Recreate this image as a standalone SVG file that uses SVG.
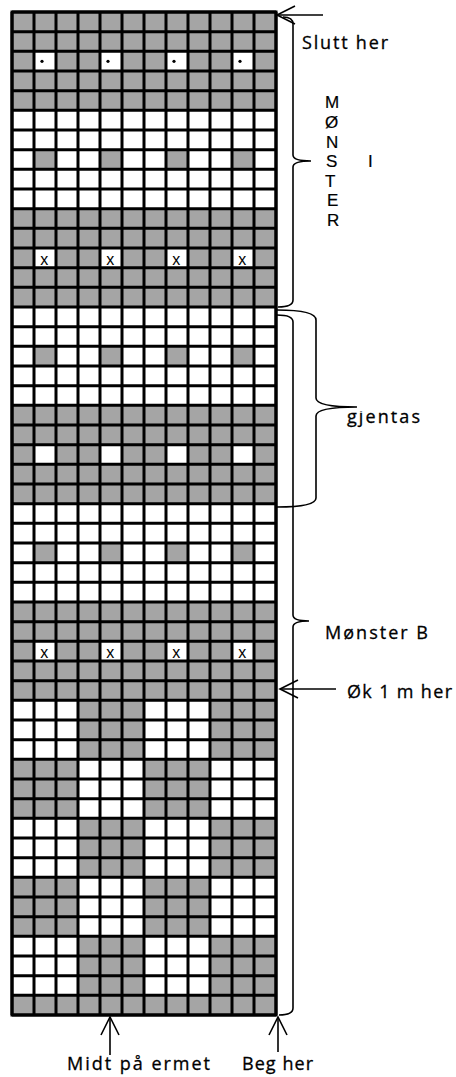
<svg xmlns="http://www.w3.org/2000/svg" width="456" height="1077" viewBox="0 0 456 1077">
<style>
.g{fill:#a5a5a5}
.w{fill:#fff}
.grid{fill:none;stroke:#000;stroke-width:3}
.ln{fill:none;stroke:#000;stroke-width:1.6}
.t{font-family:"Open Sans","Liberation Sans",Arial,sans-serif;font-size:18px;fill:#000;stroke:#000;stroke-width:0.3}
.v{font-family:"Liberation Sans",Arial,sans-serif;font-size:17px;fill:#000;stroke:#000;stroke-width:0.2}
.x{font-family:"Liberation Sans",Arial,sans-serif;font-size:16px;fill:#000;text-anchor:middle}
</style>
<defs>
<marker id="ah" markerUnits="userSpaceOnUse" markerWidth="22" markerHeight="22" viewBox="0 0 22 22" refX="19" refY="11" orient="auto">
<path d="M1,2 L19,11 L1,20" fill="none" stroke="#000" stroke-width="1.6"/>
</marker>
<clipPath id="clipG"><rect x="330" y="411.5" width="120" height="30"/></clipPath>
</defs>
<rect x="0" y="0" width="456" height="1077" fill="#fff"/>
<g id="chart">
<rect x="12" y="12" width="264" height="1003" class="w"/>
<g id="gray-cells">
<rect class="g" x="12" y="12" width="264" height="98.33"/>
<rect class="g" x="12" y="208.67" width="264" height="98.33"/>
<rect class="g" x="12" y="405.33" width="264" height="98.33"/>
<rect class="g" x="12" y="602" width="264" height="98.33"/>
<rect class="g" x="12" y="995.33" width="264" height="19.67"/>
<rect class="g" x="34" y="149.67" width="22" height="19.67"/>
<rect class="g" x="100" y="149.67" width="22" height="19.67"/>
<rect class="g" x="166" y="149.67" width="22" height="19.67"/>
<rect class="g" x="232" y="149.67" width="22" height="19.67"/>
<rect class="g" x="34" y="346.33" width="22" height="19.67"/>
<rect class="g" x="100" y="346.33" width="22" height="19.67"/>
<rect class="g" x="166" y="346.33" width="22" height="19.67"/>
<rect class="g" x="232" y="346.33" width="22" height="19.67"/>
<rect class="g" x="34" y="543" width="22" height="19.67"/>
<rect class="g" x="100" y="543" width="22" height="19.67"/>
<rect class="g" x="166" y="543" width="22" height="19.67"/>
<rect class="g" x="232" y="543" width="22" height="19.67"/>
<rect class="g" x="78" y="700.33" width="66" height="59"/>
<rect class="g" x="210" y="700.33" width="66" height="59"/>
<rect class="g" x="12" y="759.33" width="66" height="59"/>
<rect class="g" x="144" y="759.33" width="66" height="59"/>
<rect class="g" x="78" y="818.33" width="66" height="59"/>
<rect class="g" x="210" y="818.33" width="66" height="59"/>
<rect class="g" x="12" y="877.33" width="66" height="59"/>
<rect class="g" x="144" y="877.33" width="66" height="59"/>
<rect class="g" x="78" y="936.33" width="66" height="59"/>
<rect class="g" x="210" y="936.33" width="66" height="59"/>
</g>
<g id="white-cells">
<rect class="w" x="34" y="51.33" width="22" height="19.67"/>
<rect class="w" x="100" y="51.33" width="22" height="19.67"/>
<rect class="w" x="166" y="51.33" width="22" height="19.67"/>
<rect class="w" x="232" y="51.33" width="22" height="19.67"/>
<rect class="w" x="34" y="248" width="22" height="19.67"/>
<rect class="w" x="100" y="248" width="22" height="19.67"/>
<rect class="w" x="166" y="248" width="22" height="19.67"/>
<rect class="w" x="232" y="248" width="22" height="19.67"/>
<rect class="w" x="34" y="444.67" width="22" height="19.67"/>
<rect class="w" x="100" y="444.67" width="22" height="19.67"/>
<rect class="w" x="166" y="444.67" width="22" height="19.67"/>
<rect class="w" x="232" y="444.67" width="22" height="19.67"/>
<rect class="w" x="34" y="641.33" width="22" height="19.67"/>
<rect class="w" x="100" y="641.33" width="22" height="19.67"/>
<rect class="w" x="166" y="641.33" width="22" height="19.67"/>
<rect class="w" x="232" y="641.33" width="22" height="19.67"/>
</g>
<g id="symbols">
<circle cx="42" cy="61.3" r="1.6"/>
<circle cx="108" cy="61.3" r="1.6"/>
<circle cx="174" cy="61.3" r="1.6"/>
<circle cx="240" cy="61.3" r="1.6"/>
<text class="x" x="44.3" y="265">x</text>
<text class="x" x="110.3" y="265">x</text>
<text class="x" x="176.3" y="265">x</text>
<text class="x" x="242.3" y="265">x</text>
<text class="x" x="44.3" y="658">x</text>
<text class="x" x="110.3" y="658">x</text>
<text class="x" x="176.3" y="658">x</text>
<text class="x" x="242.3" y="658">x</text>
</g>
<path class="grid" d="M12,12V1015M34,12V1015M56,12V1015M78,12V1015M100,12V1015M122,12V1015M144,12V1015M166,12V1015M188,12V1015M210,12V1015M232,12V1015M254,12V1015M276,12V1015
M12,12H276M12,31.67H276M12,51.33H276M12,71H276M12,90.67H276M12,110.33H276M12,130H276M12,149.67H276M12,169.33H276M12,189H276
M12,208.67H276M12,228.33H276M12,248H276M12,267.67H276M12,287.33H276M12,307H276M12,326.67H276M12,346.33H276M12,366H276M12,385.67H276
M12,405.33H276M12,425H276M12,444.67H276M12,464.33H276M12,484H276M12,503.67H276M12,523.33H276M12,543H276M12,562.67H276M12,582.33H276
M12,602H276M12,621.67H276M12,641.33H276M12,661H276M12,680.67H276M12,700.33H276M12,720H276M12,739.67H276M12,759.33H276M12,779H276
M12,798.67H276M12,818.33H276M12,838H276M12,857.67H276M12,877.33H276M12,897H276M12,916.67H276M12,936.33H276M12,956H276M12,975.67H276
M12,995.33H276M12,1015H276"/>
<rect class="grid" x="12" y="12" width="264" height="1003" stroke-linejoin="miter"/>
</g>
<g id="connectors">
<line class="ln" x1="323" y1="15" x2="277" y2="15" marker-end="url(#ah)"/>
<line class="ln" x1="336" y1="689" x2="280" y2="689" marker-end="url(#ah)"/>
<line class="ln" x1="110" y1="1055" x2="110" y2="1017" marker-end="url(#ah)"/>
<line class="ln" x1="278" y1="1052" x2="278" y2="1017" marker-end="url(#ah)"/>
<path id="brace-monster-i" class="ln" d="M283,17 Q293,17 293,24 L293,155 Q293,161 311,161 Q293,161 293,167 L293,300 Q293,307 278,307"/>
<path id="brace-gjentas" class="ln" d="M277,310 Q316,310 316,320 L316,398 Q316,407 357,407 Q316,407 316,416 L316,498 Q316,507 277,507"/>
<path id="brace-monster-b" class="ln" d="M277,315 Q293,315 293,322 L293,615 Q293,621 309,621 Q293,621 293,627 L293,1008 Q293,1015 279,1015"/>
</g>
<g id="labels">
<text class="t" x="302" y="49" textLength="86" lengthAdjust="spacing">Slutt her</text>
<text class="v" x="325" y="108">M</text>
<text class="v" x="325" y="128">Ø</text>
<text class="v" x="326" y="147.5">N</text>
<text class="v" x="326" y="167">S</text>
<text class="v" x="325" y="186.5">T</text>
<text class="v" x="327" y="206">E</text>
<text class="v" x="327" y="225.5">R</text>
<text class="v" x="368" y="167">I</text>
<text class="t" x="347" y="423" textLength="73" lengthAdjust="spacing" clip-path="url(#clipG)">gjentas</text>
<text class="t" x="325" y="639" textLength="103" lengthAdjust="spacing">Mønster B</text>
<text class="t" x="347" y="698" textLength="105" lengthAdjust="spacing">Øk 1 m her</text>
<text class="t" x="67" y="1070" textLength="143" lengthAdjust="spacing">Midt på ermet</text>
<text class="t" x="242" y="1070" textLength="71" lengthAdjust="spacing">Beg her</text>
</g>
</svg>
